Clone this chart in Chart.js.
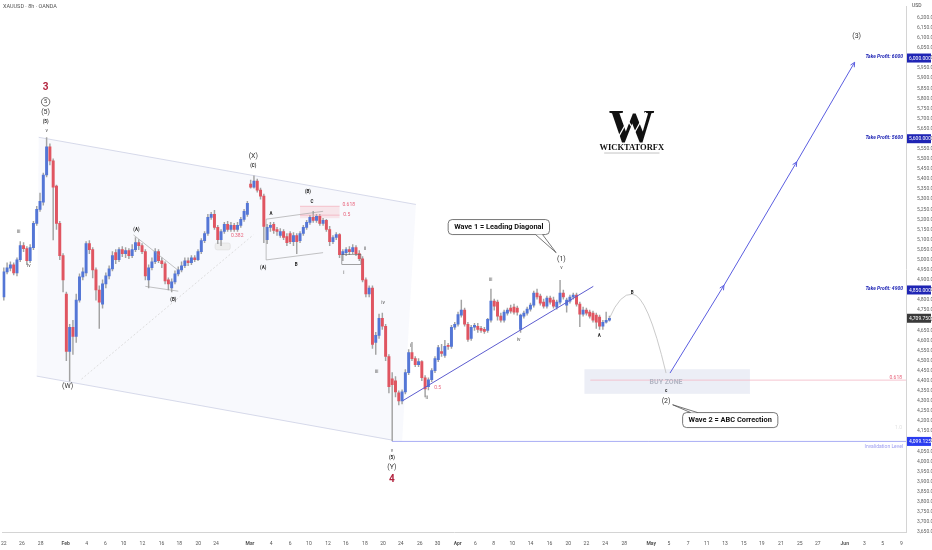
<!DOCTYPE html>
<html>
<head>
<meta charset="utf-8">
<script src="https://cdn.jsdelivr.net/npm/chart.js@4.4.1/dist/chart.umd.min.js"></script>
<style>
html,body{margin:0;padding:0;background:#fff;}
#wrap{width:932px;height:550px;position:relative;}
</style>
</head>
<body>
<div id="wrap"><canvas id="chart"></canvas></div>
<script>
// 8h candles, [open, high, low, close]
const ohlc = [
 [4815,4960,4800,4940],[4940,4985,4930,4960],[4958,4990,4945,4975],[4975,4985,4925,4935],[4935,5010,4920,5000],
 [5000,5090,4990,5070],[5070,5085,5040,5055],[5055,5065,4975,4995],[4995,5075,4985,5060],[5060,5190,5050,5180],
 [5180,5265,5170,5250],[5250,5330,5240,5290],[5285,5430,5270,5420],[5420,5605,5410,5560],[5560,5575,5470,5490],
 [5490,5500,5098,5360],[5365,5370,5150,5180],[5180,5190,5000,5020],[5020,5030,4840,4900],[4830,4840,4500,4545],
 [4545,4680,4398,4665],[4665,4700,4530,4620],[4620,4830,4590,4800],[4800,4930,4790,4915],[4915,4960,4900,4940],
 [4935,5090,4920,5080],[5080,5095,5030,5050],[5050,5060,4910,4950],[4950,4960,4800,4850],[4850,4870,4660,4790],
 [4780,4900,4760,4880],[4880,4935,4860,4920],[4920,4970,4905,4955],[4955,5040,4945,5020],[5035,5050,4980,5000],
 [5000,5060,4990,5050],[5050,5065,5015,5030],[5030,5060,5010,5045],[5045,5055,5005,5020],[5020,5075,5010,5050],
 [5050,5110,5040,5085],[5085,5100,5050,5070],[5070,5080,5030,5040],[5040,5050,4900,4920],[4900,4975,4860,4960],
 [4960,5010,4950,4990],[4990,5055,4980,5040],[5040,5050,4985,4995],[4995,5010,4960,4980],[4980,4990,4880,4895],
 [4900,4910,4850,4880],[4860,4905,4840,4890],[4890,4945,4880,4930],[4930,4965,4920,4950],[4950,4990,4940,4970],
 [4970,5010,4960,4995],[4995,5010,4970,4985],[4985,5020,4975,5010],[5010,5020,4990,5000],[5000,5050,4995,5040],
 [5040,5105,5030,5095],[5095,5140,5085,5130],[5130,5225,5120,5210],[5210,5235,5200,5225],[5225,5245,5150,5160],
 [5160,5170,5080,5100],[5100,5150,5070,5140],[5140,5185,5130,5175],[5175,5190,5140,5150],[5150,5185,5140,5170],
 [5170,5180,5140,5150],[5150,5185,5140,5170],[5170,5210,5160,5200],[5200,5250,5190,5240],[5225,5290,5215,5280],
 [5375,5395,5355,5360],[5360,5416,5355,5390],[5390,5400,5335,5345],[5345,5355,5300,5315],[5315,5325,5085,5165],
 [5100,5175,5080,5160],[5160,5185,5140,5170],[5175,5185,5130,5145],[5150,5160,5120,5140],[5120,5155,5110,5140],
 [5140,5150,5100,5110],[5115,5130,5070,5085],[5130,5140,5080,5090],[5090,5135,5070,5120],[5120,5130,5030,5090],
 [5095,5140,5085,5130],[5130,5170,5120,5160],[5160,5195,5150,5185],[5185,5220,5175,5210],[5210,5240,5185,5195],
 [5195,5225,5185,5215],[5215,5225,5170,5180],[5180,5205,5170,5195],[5195,5200,5140,5150],[5150,5165,5070,5090],
 [5090,5120,5080,5110],[5110,5135,5100,5125],[5125,5130,5010,5025],[5025,5050,4995,5040],[5035,5060,5020,5050],
 [5050,5065,5025,5040],[5040,5075,5030,5060],[5060,5070,5020,5030],[5030,5045,4995,5005],[5005,5015,4890,4900],
 [4900,4910,4815,4830],[4830,4870,4815,4860],[4860,4870,4560,4580],[4590,4640,4530,4625],[4625,4730,4610,4710],
 [4710,4735,4655,4670],[4670,4680,4500,4520],[4520,4530,4340,4370],[4410,4440,4103,4380],[4400,4420,4320,4345],
 [4340,4350,4280,4300],[4300,4355,4285,4345],[4345,4455,4335,4440],[4440,4555,4430,4540],[4540,4590,4500,4510],
 [4510,4520,4470,4480],[4480,4510,4470,4495],[4495,4500,4400,4415],[4415,4425,4320,4360],[4370,4415,4355,4405],
 [4405,4460,4395,4450],[4450,4520,4440,4510],[4505,4575,4495,4565],[4545,4580,4520,4535],[4525,4600,4515,4570],
 [4575,4585,4555,4570],[4570,4675,4560,4665],[4665,4690,4655,4680],[4680,4740,4670,4728],[4725,4800,4715,4750],
 [4750,4760,4670,4680],[4680,4690,4595,4605],[4610,4675,4600,4665],[4665,4685,4650,4675],[4670,4685,4640,4655],
 [4660,4670,4640,4650],[4655,4665,4635,4645],[4650,4710,4640,4705],[4700,4854,4690,4795],[4795,4805,4750,4770],
 [4790,4800,4700,4720],[4720,4735,4690,4700],[4700,4750,4690,4740],[4735,4760,4725,4750],[4760,4775,4735,4745],
 [4765,4780,4730,4740],[4760,4770,4725,4740],[4655,4730,4640,4725],[4720,4745,4710,4735],[4735,4765,4725,4755],
 [4755,4785,4745,4775],[4775,4845,4765,4835],[4835,4855,4805,4815],[4820,4830,4775,4785],[4790,4805,4760,4770],
 [4770,4820,4760,4810],[4810,4820,4780,4790],[4800,4815,4760,4770],[4765,4800,4755,4790],[4790,4898,4780,4835],
 [4835,4850,4805,4815],[4775,4810,4740,4800],[4795,4825,4785,4815],[4815,4835,4805,4825],[4825,4835,4770,4780],
 [4780,4790,4668,4730],[4730,4765,4720,4750],[4750,4760,4725,4735],[4740,4750,4710,4720],[4735,4745,4690,4700],
 [4725,4735,4660,4690],[4715,4725,4655,4670],[4670,4700,4655,4690],[4690,4740,4685,4700],[4700,4720,4695,4710]
];

// date ticks: bar position and text
const xTickPos = [0,5.5,11.2,18.8,25.2,30.9,36.4,42.1,47.9,53.3,59.1,64.5,74.8,81.2,87,92.7,98.5,103.9,109.7,115.2,
  120.6,126.4,131.8,137.9,143.3,148.8,154.5,160,165.8,171.5,177,182.7,188.5,196.7,202.1,207.9,213.6,219.1,224.8,
  230.3,236.1,241.8,247.3,255.5,261.5,267,272.7];
const xTickLabels = ['22','26','28','Feb','4','6','10','12','16','18','20','24','Mar','4','6','10','12','16','18','20',
  '24','26','30','Apr','6','8','10','14','16','20','22','24','28','May','5','7','11','13','15','19','21','25','27',
  'Jun','3','5','9'];
const monthNames = ['Feb','Mar','Apr','May','Jun'];

// price axis: every 50 from 3650 up to 6200
const yTickFirst = 3650, yTickLast = 6200, yTickStep = 50;

const takeProfits = [6000, 5600, 4900];
const tpAxisTags = [6000, 5600, 4850];
const lastPrice = 4709.75;
const invalidation = 4099.125;
const fib618 = 4403;

// wave labels: text, bar, price, style
const waveLabels = [
 ['iii',4.5,5142,'r'],['iv',7.6,4971,'r'],['3',12.7,5857,'red'],['5',12.7,5783,'circ'],['(5)',12.7,5734,'p'],
 ['(5)',12.7,5685,'s'],['v',13,5641,'r'],['(W)',19.4,4374,'p'],['(A)',40.3,5147,'s'],['(B)',51.5,4800,'s'],
 ['0.382',70.9,5118,'fib'],['(X)',75.8,5514,'p'],['(C)',75.8,5465,'s'],['(B)',92.4,5338,'s'],['C',93.6,5289,'s'],
 ['A',81.2,5230,'s'],['B',88.8,4976,'s'],['(A)',78.8,4961,'s'],['0.618',104.8,5274,'fib'],['0.5',104.2,5226,'fib'],
 ['i',103.3,4937,'r'],['ii',109.7,5054,'r'],['iv',115.2,4790,'r'],['iii',113.3,4447,'r'],['v',117.9,4056,'r'],
 ['(5)',117.9,4017,'s'],['(Y)',117.9,3973,'p'],['4',117.9,3914,'red'],['i',123.6,4575,'r'],['ii',128.5,4315,'r'],
 ['0.5',131.8,4369,'fib'],['iii',147.9,4902,'r'],['iv',156.4,4604,'r'],['(1)',169.4,5005,'p'],['v',169.4,4961,'r'],
 ['A',180.9,4624,'s'],['B',190.9,4836,'s'],['c',201.2,4350,'s'],['(2)',201.2,4301,'p'],['(3)',259.1,6111,'p']
];
const styles = {
 r:{size:5, color:'#555', weight:'normal'},
 p:{size:7, color:'#333', weight:'normal'},
 s:{size:4.5, color:'#222', weight:'bold'},
 red:{size:10, color:'#b3243f', weight:'bold'},
 fib:{size:5, color:'#e8637b', weight:'normal'},
 circ:{size:5.5, color:'#333', weight:'normal'}
};

const channel = [[10.6,5607],[125.2,5274],[121,4095],[10,4423]];
const smallTriangle = [[[39.4,5123],[53,4947]],[[43,4868],[53,4844]]];
const abcBox = [[[79.7,5201],[97,5240]],[[79.7,4999],[97,5035]]];
const wFromLow = [[23.6,4408],[75.8,5123]];
const diagonal = [[121.2,4301],[179.1,4868]];
const projection = [[184,4710],[187.3,4835],[190.9,4829],[195.5,4829],[201.2,4438]];
const targetPath = [[202.4,4438],[218.8,4873],[240.9,5485],[258.5,5979]];
const buyZone = [176.4,226.7,4457,4335];
const pinkZone = [90,102,5265,5206];
const callouts = [
 ['Wave 1 = Leading Diagonal',150.4,5162,167.8,5035],
 ['Wave 2 = ABC Correction',220.7,4205,203.2,4281]
];

const fmt = v => v.toLocaleString('en-US',{minimumFractionDigits:3, maximumFractionDigits:3});
const UP = '#5476d6', DOWN = '#e05561', WICK = '#a3a3a3';

const drawings = {
  id:'drawings',
  beforeDatasetsDraw(c){
    const ctx = c.ctx, a = c.chartArea;
    const P = (x,y) => [c.scales.x.getPixelForValue(x), c.scales.y.getPixelForValue(y)];
    ctx.save();
    ctx.beginPath(); ctx.rect(a.left,a.top,a.width,a.height); ctx.clip();
    // channel fill + edges
    ctx.beginPath();
    channel.forEach((p,i)=>{const q=P(p[0],p[1]); i?ctx.lineTo(q[0],q[1]):ctx.moveTo(q[0],q[1]);});
    ctx.closePath();
    ctx.fillStyle='rgba(120,140,220,0.05)'; ctx.fill();
    ctx.strokeStyle='#cdd1e4'; ctx.lineWidth=0.8;
    let p1=P(...channel[0]), p2=P(...channel[1]);
    ctx.beginPath(); ctx.moveTo(...p1); ctx.lineTo(...p2); ctx.stroke();
    p1=P(...channel[3]); p2=P(118.2,4105);
    ctx.beginPath(); ctx.moveTo(...p1); ctx.lineTo(...p2); ctx.stroke();
    // buy zone
    let b1=P(buyZone[0],buyZone[2]), b2=P(buyZone[1],buyZone[3]);
    ctx.fillStyle='rgba(200,205,228,0.35)';
    ctx.fillRect(b1[0],b1[1],b2[0]-b1[0],b2[1]-b1[1]);
    // pink fib zone
    b1=P(pinkZone[0],pinkZone[2]); b2=P(pinkZone[1],pinkZone[3]);
    ctx.fillStyle='rgba(242,80,100,0.12)';
    ctx.fillRect(b1[0],b1[1],b2[0]-b1[0],b2[1]-b1[1]);
    // small box near 0.382
    b1=P(64.2,5083); b2=P(68.8,5049);
    ctx.fillStyle='#eeeeee'; ctx.strokeStyle='#dcdcdc'; ctx.lineWidth=0.6;
    ctx.beginPath(); ctx.roundRect(b1[0],b1[1],b2[0]-b1[0],b2[1]-b1[1],2); ctx.fill(); ctx.stroke();
    ctx.restore();
  },
  afterDatasetsDraw(c){
    const ctx = c.ctx, a = c.chartArea;
    const xs = c.scales.x, ys = c.scales.y;
    const P = (x,y) => [xs.getPixelForValue(x), ys.getPixelForValue(y)];
    const seg = (p,q,col,w,dash) => {
      const A=P(...p), B=P(...q);
      ctx.strokeStyle=col; ctx.lineWidth=w; ctx.setLineDash(dash||[]);
      ctx.beginPath(); ctx.moveTo(...A); ctx.lineTo(...B); ctx.stroke(); ctx.setLineDash([]);
    };
    ctx.save();
    ctx.beginPath(); ctx.rect(a.left,a.top,a.width,a.height); ctx.clip();
    seg(wFromLow[0],wFromLow[1],'#d6d6d6',0.8,[2,2]);
    smallTriangle.forEach(s=>seg(s[0],s[1],'#9a9a9a',0.6));
    abcBox.forEach(s=>seg(s[0],s[1],'#9a9a9a',0.6));
    seg([79.7,5201],[79.7,4999],'#9a9a9a',0.6);
    // fib level lines
    seg([pinkZone[0],pinkZone[2]],[pinkZone[1],pinkZone[2]],'#f0a0ae',0.6);
    seg([pinkZone[0],pinkZone[3]+15],[pinkZone[1],pinkZone[3]+15],'#f0a0ae',0.6);
    // small bracket at wave i
    let r1=P(102.7,5025), r2=P(108.5,4976);
    ctx.strokeStyle='#666'; ctx.lineWidth=0.6;
    ctx.strokeRect(r1[0],r1[1],r2[0]-r1[0],r2[1]-r1[1]);
    // leading diagonal
    seg(diagonal[0],diagonal[1],'#5c5ccf',1);
    // buy zone level and invalidation
    seg([178.2,fib618],[xs.max,fib618],'#f3b8c4',0.8);
    seg([117.9,invalidation],[xs.max,invalidation],'#a9adf5',1);
    // projected abc path
    const pp = projection.map(p=>P(...p));
    ctx.strokeStyle='#c4c4c4'; ctx.lineWidth=0.9;
    ctx.beginPath(); ctx.moveTo(...pp[0]);
    ctx.quadraticCurveTo(pp[1][0],pp[1][1],pp[2][0],pp[2][1]);
    ctx.quadraticCurveTo(pp[3][0],pp[3][1],pp[4][0],pp[4][1]);
    ctx.stroke();
    // target arrows
    ctx.strokeStyle='#5b5ee0'; ctx.lineWidth=1;
    for(let i=0;i<targetPath.length-1;i++){
      const A=P(...targetPath[i]), B=P(...targetPath[i+1]);
      ctx.beginPath(); ctx.moveTo(...A); ctx.lineTo(...B); ctx.stroke();
      const ang=Math.atan2(B[1]-A[1],B[0]-A[0]);
      ctx.beginPath();
      ctx.moveTo(B[0]-5*Math.cos(ang-0.45),B[1]-5*Math.sin(ang-0.45));
      ctx.lineTo(B[0],B[1]);
      ctx.lineTo(B[0]-5*Math.cos(ang+0.45),B[1]-5*Math.sin(ang+0.45));
      ctx.stroke();
    }
    // buy zone text
    let t=P(201.2,4394);
    ctx.font='bold 7px Roboto'; ctx.fillStyle='#b3b6c4'; ctx.textAlign='center'; ctx.textBaseline='middle';
    ctx.fillText('BUY ZONE',t[0],t[1]);
    // right side texts
    ctx.textAlign='right';
    ctx.font='5px Roboto'; ctx.fillStyle='#e8637b';
    ctx.fillText('0.618',a.right-4,ys.getPixelForValue(fib618)-2);
    ctx.fillStyle='#e2e2e2';
    ctx.fillText('1.0',a.right-4,ys.getPixelForValue(4169));
    ctx.fillStyle='#9c9cf0';
    ctx.fillText('Invalidation Level',a.right-3,ys.getPixelForValue(invalidation)+5);
    ctx.font='italic bold 5px Roboto'; ctx.fillStyle='#1f25b5';
    takeProfits.forEach((v,i)=>ctx.fillText('Take Profit: '+v,a.right-3,ys.getPixelForValue(tpAxisTags[i])-1));
    // wave labels
    ctx.textAlign='center';
    waveLabels.forEach(([txt,x,y,k])=>{
      const s=styles[k], q=P(x,y);
      ctx.font=s.weight+' '+s.size+'px Roboto'; ctx.fillStyle=s.color;
      if(k==='circ'){
        ctx.strokeStyle='#333'; ctx.lineWidth=0.7;
        ctx.beginPath(); ctx.arc(q[0],q[1],4.2,0,Math.PI*2); ctx.stroke();
      }
      ctx.fillText(txt,q[0],q[1]+0.3);
    });
    // callouts
    callouts.forEach(([txt,cx,cy,tx,ty])=>{
      ctx.font='bold 7.4px Roboto';
      const w=ctx.measureText(txt).width+12, h=15;
      const C=P(cx,cy), T=P(tx,ty);
      const L=C[0]-w/2, Tp=C[1]-h/2;
      ctx.fillStyle='#fff'; ctx.strokeStyle='#555'; ctx.lineWidth=0.8;
      ctx.beginPath(); ctx.roundRect(L,Tp,w,h,4); ctx.fill(); ctx.stroke();
      const ey = T[1]>C[1] ? Tp+h : Tp;
      const bx = Math.min(Math.max(T[0],L+8),L+w-14);
      ctx.beginPath(); ctx.moveTo(bx,ey); ctx.lineTo(T[0],T[1]); ctx.lineTo(bx+7,ey); ctx.closePath();
      ctx.fill();
      ctx.beginPath(); ctx.moveTo(bx,ey); ctx.lineTo(T[0],T[1]); ctx.lineTo(bx+7,ey); ctx.stroke();
      ctx.fillStyle='#111'; ctx.textAlign='center'; ctx.textBaseline='middle';
      ctx.fillText(txt,C[0],C[1]+0.5);
    });
    // logo watermark
    let g=P(190.8,5583);
    ctx.fillStyle='#111'; ctx.textAlign='center'; ctx.textBaseline='alphabetic';
    ctx.font='bold 46px "Liberation Serif", serif';
    ctx.fillText('W',g[0],g[1]);
    ctx.strokeStyle='#fff'; ctx.lineWidth=1.2;
    ctx.beginPath(); ctx.moveTo(g[0]-14,g[1]-4); ctx.lineTo(g[0]-4,g[1]-22); ctx.lineTo(g[0]+3,g[1]-10); ctx.lineTo(g[0]+14,g[1]-30); ctx.stroke();
    g=P(190.8,5544);
    ctx.font='bold 8.5px "Liberation Serif", serif';
    ctx.fillText('WICKTATORFX',g[0],g[1]);
    const u1=P(182.4,5529), u2=P(199.2,5529);
    ctx.strokeStyle='#999'; ctx.lineWidth=0.6;
    ctx.beginPath(); ctx.moveTo(...u1); ctx.lineTo(...u2); ctx.stroke();
    ctx.restore();
  },
  afterDraw(c){
    const ctx=c.ctx, a=c.chartArea, ys=c.scales.y;
    ctx.save();
    const tag=(v,col)=>{
      const y=ys.getPixelForValue(v);
      ctx.fillStyle=col; ctx.fillRect(a.right+1,y-4.5,c.width-a.right-2,9);
      ctx.fillStyle='#fff'; ctx.font='5px Roboto'; ctx.textAlign='left'; ctx.textBaseline='middle';
      ctx.fillText(fmt(v),a.right+3,y+0.3);
    };
    tpAxisTags.forEach(v=>tag(v,'#1f25b5'));
    tag(lastPrice,'#3a3a3a');
    tag(invalidation,'#2a3cf0');
    ctx.fillStyle='#444'; ctx.font='5px Roboto'; ctx.textAlign='left'; ctx.textBaseline='middle';
    ctx.fillText('USD',a.right+6,6);
    ctx.font='5.5px Roboto'; ctx.fillStyle='#555';
    ctx.fillText('XAUUSD · 8h · OANDA',3,7);
    ctx.restore();
  }
};

new Chart(document.getElementById('chart'), {
  type:'bar',
  data:{
    datasets:[
      {
        label:'wicks',
        data: ohlc.map((c,i)=>({x:i, y:[c[2],c[1]]})),
        backgroundColor: WICK,
        barThickness: 0.8,
        grouped:false,
        order:2
      },
      {
        label:'bodies',
        data: ohlc.map((c,i)=>({x:i, y:[c[0],c[3]]})),
        backgroundColor: ohlc.map(c=> c[3]>=c[0] ? UP : DOWN),
        barThickness: 2.3,
        minBarLength: 0.8,
        grouped:false,
        order:1
      }
    ]
  },
  plugins:[drawings],
  options:{
    responsive:true,
    maintainAspectRatio:false,
    animation:false,
    layout:{padding:0, autoPadding:false},
    plugins:{legend:{display:false}, tooltip:{enabled:false}},
    scales:{
      x:{
        type:'linear', min:-0.4, max:274.1, offset:false,
        grid:{display:false},
        border:{display:true, color:'#d4d4d4'},
        ticks:{autoSkip:false, maxRotation:0, padding:1, color:'#555',
          font: ctx => ({size:5, family:'Roboto', weight: monthNames.includes(xTickLabels[ctx.index]) ? 'bold' : 'normal'}),
          callback:(v,i)=>xTickLabels[i]},
        afterBuildTicks: s => { s.ticks = xTickPos.map(v=>({value:v})); },
        afterFit: s => { s.height = 18; }
      },
      y:{
        position:'right', min:3650, max:6258,
        grid:{display:false},
        border:{display:true, color:'#d4d4d4'},
        ticks:{autoSkip:false, padding:3, color:'#666',
          font:{size:5, family:'Roboto'}, callback: v => fmt(v)},
        afterBuildTicks: s => {
          const t = [];
          for (let v = yTickFirst; v <= yTickLast; v += yTickStep) t.push({value:v});
          s.ticks = t;
        },
        afterFit: s => { s.width = 26; }
      }
    }
  }
});
</script>
</body>
</html>
